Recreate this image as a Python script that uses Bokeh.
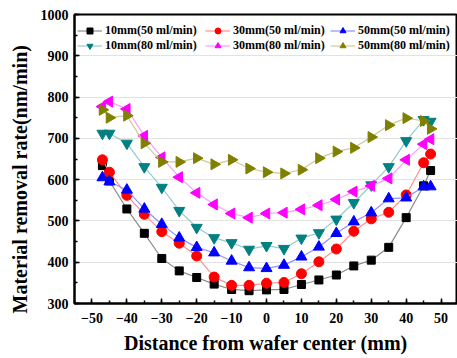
from bokeh.plotting import figure
from bokeh.models import Range1d, Legend, LegendItem, Title, SingleIntervalTicker
from bokeh.embed import file_html
from bokeh.resources import INLINE
import math

# ---- data ----
x_mm = [-47, -45, -40, -35, -30, -25, -20, -15, -10, -5, 0, 5, 10, 15, 20, 25, 30, 35, 40, 45, 47]

r_10mm_50 = [634, 597, 529, 470, 409, 379, 363, 347, 334, 331, 333, 334, 346, 357, 369, 391, 405, 436, 508, 585, 622]
r_30mm_50 = [648, 618, 562, 516, 474, 446, 415, 364, 344, 344, 349, 351, 372, 401, 432, 475, 505, 521, 563, 641, 662]
r_50mm_50 = [605, 595, 575, 529, 492, 459, 436, 423, 403, 387, 385, 393, 413, 437, 470, 498, 520, 554, 556, 583, 583]
r_10mm_80 = [712, 712, 688, 631, 581, 525, 484, 459, 447, 431, 440, 433, 458, 471, 504, 544, 587, 631, 694, 745, 741]
r_30mm_80 = [777, 789, 771, 706, 654, 606, 568, 540, 518, 508, 518, 520, 528, 538, 552, 571, 585, 603, 648, 686, 698]
r_50mm_80 = [769, 750, 755, 688, 643, 643, 652, 637, 648, 627, 618, 615, 624, 652, 668, 677, 703, 732, 749, 742, 723]

labels = ["10mm(50 ml/min)", "30mm(50 ml/min)", "50mm(50 ml/min)",
          "10mm(80 ml/min)", "30mm(80 ml/min)", "50mm(80 ml/min)"]
x_ticks_interval = 10
y_ticks_interval = 100

FONT = "Liberation Serif"

p = figure(width=457, height=358, output_backend="svg", toolbar_location=None,
           x_range=Range1d(-55, 54.7), y_range=Range1d(300, 1000),
           min_border_left=73, min_border_right=0, min_border_top=14, min_border_bottom=55)
p.background_fill_color = "white"
p.border_fill_color = "white"
p.outline_line_color = "black"
p.outline_line_width = 2

p.xaxis.ticker = SingleIntervalTicker(interval=x_ticks_interval, num_minor_ticks=2)
p.yaxis.ticker = SingleIntervalTicker(interval=y_ticks_interval, num_minor_ticks=2)
for ax in (p.xaxis, p.yaxis):
    ax.axis_line_width = 2
    ax.axis_line_color = "black"
    ax.major_tick_in = 5
    ax.major_tick_out = 0
    ax.minor_tick_in = 3
    ax.minor_tick_out = 0
    ax.major_tick_line_width = 1.5
    ax.minor_tick_line_width = 1.5
    ax.major_tick_line_color = "black"
    ax.minor_tick_line_color = "black"
    ax.major_label_text_font = FONT
    ax.major_label_text_font_style = "bold"
    ax.major_label_text_font_size = "14px"
    ax.major_label_text_color = "black"
p.xaxis.major_label_standoff = 9
p.yaxis.major_label_standoff = 6

p.xaxis.axis_label = "Distance from wafer center (mm)"
p.xaxis.axis_label_text_font = FONT
p.xaxis.axis_label_text_font_style = "bold"
p.xaxis.axis_label_text_font_size = "20px"
p.xaxis.axis_label_standoff = 6
p.xaxis.axis_label_text_color = "black"

p.xgrid.visible = False
p.ygrid.grid_line_color = "#e2e2e2"
p.ygrid.grid_line_width = 1

ytitle = Title(text="Material removal rate(nm/min)", align="left", offset=-10,
               text_font=FONT, text_font_style="bold", text_font_size="20px",
               text_color="black", standoff=13)
p.add_layout(ytitle, "left")

series = [
    (r_10mm_50, "black", "#8c8c8c", "square", 0.0, 8),
    (r_30mm_50, "#ff0000", "#ff9090", "circle", 0.0, 10),
    (r_50mm_50, "#0000ff", "#9090ff", "triangle", 0.0, 11),
    (r_10mm_80, "#008080", "#90cccc", "inverted_triangle", 0.0, 11),
    (r_30mm_80, "#ff00ff", "#ff99ff", "triangle", math.pi / 2, 11),
    (r_50mm_80, "#808000", "#cccc99", "triangle", -math.pi / 2, 11),
]

items = []
for (ys, col, lcol, marker, ang, sz), lab in zip(series, labels):
    ln = p.line(x_mm, ys, line_color=lcol, line_width=1.2)
    sc = p.scatter(x_mm, ys, marker=marker, size=sz, angle=ang,
                   fill_color=col, line_color=col)
    items.append(LegendItem(label=lab, renderers=[ln, sc]))

# three legend columns: (50 ml/min item above, 80 ml/min item below)
col_x = [3, 131, 256]
for c in range(3):
    lg = Legend(items=[items[c], items[c + 3]], location=(col_x[c], 250), orientation="vertical",
                margin=0, padding=7, spacing=0, glyph_width=25, glyph_height=15,
                label_height=15, label_standoff=3,
                label_text_font=FONT, label_text_font_style="bold",
                label_text_font_size="12px", label_text_color="black",
                border_line_color=None, background_fill_alpha=0)
    p.add_layout(lg)

open("out.html", "w").write(file_html(p, INLINE))
